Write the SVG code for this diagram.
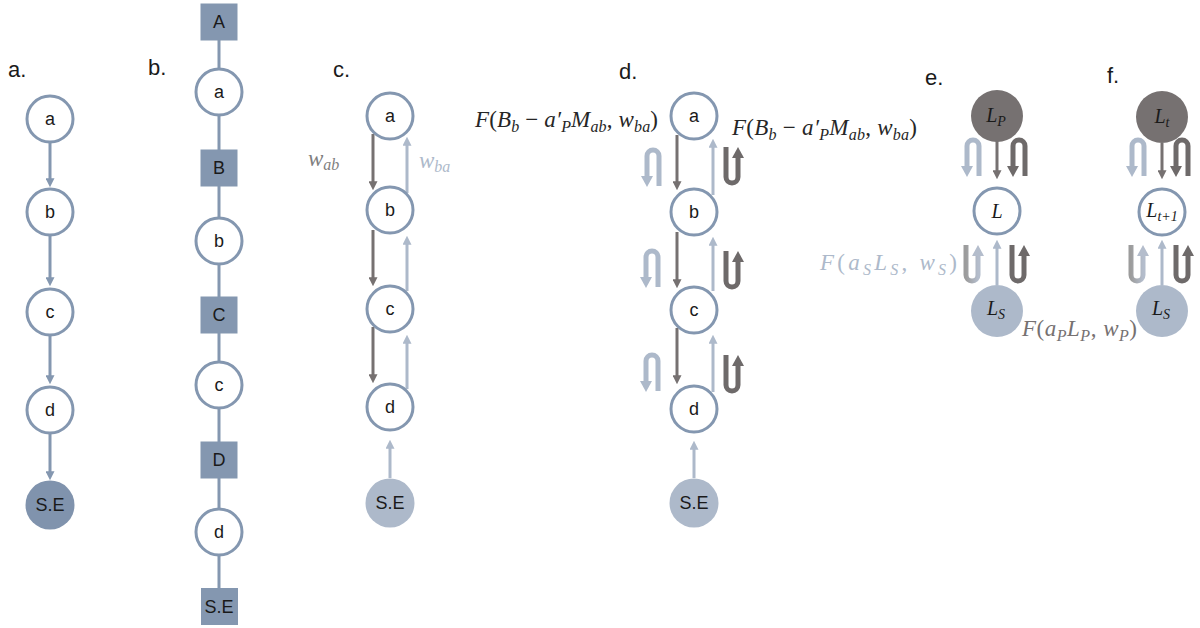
<svg xmlns="http://www.w3.org/2000/svg" xmlns:xlink="http://www.w3.org/1999/xlink" width="1200" height="628" viewBox="0 0 1200 628">
  <style>
    .node { fill: #ffffff; stroke: #8497b0; stroke-width: 3; }
    .sq { fill: #8497b0; }
    .se-dark { fill: #8093ad; }
    .se-light { fill: #adb9ca; }
    .lp { fill: #767171; }
    .t { font-family: "Liberation Sans", Arial, sans-serif; font-size: 18px; fill: #1a1a1a; text-anchor: middle; }
    .p { font-family: "Liberation Sans", Arial, sans-serif; font-size: 22px; fill: #1a1a1a; }
    .m { font-family: "Liberation Serif", "Times New Roman", serif; font-style: italic; font-size: 23px; fill: #262626; }
    .mi { font-family: "Liberation Serif", "Times New Roman", serif; font-style: italic; font-size: 20px; fill: #1a1a1a; text-anchor: middle; }
    .s { font-size: 16px; }
    .mi .s { font-size: 14px; }
    .u { font-style: normal; }
    .c-blue { stroke: #8497b0; stroke-width: 3; fill: none; }
    .c-dark { stroke: #767171; stroke-width: 3; fill: none; }
    .c-light { stroke: #adb9ca; stroke-width: 3; fill: none; }
    .chain { stroke: #8497b0; stroke-width: 3; fill: none; }
  </style>
  <defs>
    <marker id="ah-blue" viewBox="0 0 10 10" markerUnits="userSpaceOnUse" markerWidth="9" markerHeight="9" refX="2" refY="5" orient="auto">
      <path d="M0,0 L10,5 L0,10 z" fill="#8497b0"/>
    </marker>
    <marker id="ah-dark" viewBox="0 0 10 10" markerUnits="userSpaceOnUse" markerWidth="9" markerHeight="9" refX="2" refY="5" orient="auto">
      <path d="M0,0 L10,5 L0,10 z" fill="#767171"/>
    </marker>
    <marker id="ah-light" viewBox="0 0 10 10" markerUnits="userSpaceOnUse" markerWidth="9" markerHeight="9" refX="2" refY="5" orient="auto">
      <path d="M0,0 L10,5 L0,10 z" fill="#adb9ca"/>
    </marker>
    <linearGradient id="grey-blue" x1="0" y1="0" x2="1" y2="0">
      <stop offset="0" stop-color="#9c9c9c"/>
      <stop offset="1" stop-color="#b4bdcc"/>
    </linearGradient>
    <!-- arch turning back down, head on the left leg -->
    <g id="turn-down">
      <path d="M6,30 V10 A6,6 0 0 1 18,10 V40" fill="none" stroke="currentColor" stroke-width="5"/>
      <polygon points="0,30 12,30 6,41" fill="currentColor"/>
    </g>
    <!-- cup turning back up, head on the right leg -->
    <g id="turn-up">
      <path d="M6,0 V30 A6,6 0 0 0 18,30 V11" fill="none" stroke="currentColor" stroke-width="5"/>
      <polygon points="12,11 24,11 18,0" fill="currentColor"/>
    </g>
    <g id="turn-up-grad">
      <path d="M6,0 V30 A6,6 0 0 0 18,30 V11" fill="none" stroke="url(#grey-blue)" stroke-width="5"/>
      <polygon points="12,11 24,11 18,0" fill="#b4bdcc"/>
    </g>
  </defs>

  <!-- panel letters -->
  <g id="panel-labels">
    <text class="p" x="8" y="77">a.</text>
    <text class="p" x="148" y="75">b.</text>
    <text class="p" x="333" y="77">c.</text>
    <text class="p" x="619" y="79">d.</text>
    <text class="p" x="925" y="85">e.</text>
    <text class="p" x="1107" y="83">f.</text>
  </g>

  <!-- connectors -->
  <g id="connectors">
    <!-- a: food chain -->
    <line class="c-blue" x1="50" y1="143" x2="50" y2="180" marker-end="url(#ah-blue)"/>
    <line class="c-blue" x1="50" y1="236" x2="50" y2="279" marker-end="url(#ah-blue)"/>
    <line class="c-blue" x1="50" y1="336" x2="50" y2="377" marker-end="url(#ah-blue)"/>
    <line class="c-blue" x1="50" y1="434" x2="50" y2="473" marker-end="url(#ah-blue)"/>
    <!-- b: bipartite chain -->
    <line class="chain" x1="219" y1="22" x2="219" y2="607"/>
    <!-- c -->
    <line class="c-dark" x1="373" y1="134" x2="373" y2="183" marker-end="url(#ah-dark)"/>
    <line class="c-dark" x1="373" y1="230" x2="373" y2="279" marker-end="url(#ah-dark)"/>
    <line class="c-dark" x1="373" y1="327" x2="373" y2="376" marker-end="url(#ah-dark)"/>
    <line class="c-light" x1="407" y1="193" x2="407" y2="144" marker-end="url(#ah-light)"/>
    <line class="c-light" x1="407" y1="291" x2="407" y2="243" marker-end="url(#ah-light)"/>
    <line class="c-light" x1="407" y1="389" x2="407" y2="342" marker-end="url(#ah-light)"/>
    <line class="c-light" x1="390" y1="478" x2="390" y2="447" marker-end="url(#ah-light)"/>
    <!-- d -->
    <line class="c-dark" x1="677" y1="135" x2="677" y2="183" marker-end="url(#ah-dark)"/>
    <line class="c-dark" x1="677" y1="232" x2="677" y2="281" marker-end="url(#ah-dark)"/>
    <line class="c-dark" x1="677" y1="328" x2="677" y2="377" marker-end="url(#ah-dark)"/>
    <line class="c-light" x1="713" y1="195" x2="713" y2="146" marker-end="url(#ah-light)"/>
    <line class="c-light" x1="713" y1="291" x2="713" y2="244" marker-end="url(#ah-light)"/>
    <line class="c-light" x1="713" y1="392" x2="713" y2="342" marker-end="url(#ah-light)"/>
    <line class="c-light" x1="694" y1="478" x2="694" y2="448" marker-end="url(#ah-light)"/>
    <use xlink:href="#turn-down" href="#turn-down" x="641" y="146" style="color:#adb9ca"/>
    <use xlink:href="#turn-down" href="#turn-down" x="640" y="247" style="color:#adb9ca"/>
    <use xlink:href="#turn-down" href="#turn-down" x="640" y="351" style="color:#adb9ca"/>
    <use xlink:href="#turn-up" href="#turn-up" x="720" y="147" style="color:#6e6a6a"/>
    <use xlink:href="#turn-up" href="#turn-up" x="720" y="251" style="color:#6e6a6a"/>
    <use xlink:href="#turn-up" href="#turn-up" x="720" y="355" style="color:#6e6a6a"/>
    <!-- e -->
    <line class="c-dark" x1="997" y1="141" x2="997" y2="172" marker-end="url(#ah-dark)"/>
    <line class="c-light" x1="997" y1="285" x2="997" y2="247" marker-end="url(#ah-light)"/>
    <use xlink:href="#turn-down" href="#turn-down" x="961" y="136" style="color:#adb9ca"/>
    <use xlink:href="#turn-down" href="#turn-down" x="1007" y="136" style="color:#6e6a6a"/>
    <use xlink:href="#turn-up-grad" href="#turn-up-grad" x="960" y="245"/>
    <use xlink:href="#turn-up" href="#turn-up" x="1006" y="245" style="color:#6e6a6a"/>
    <!-- f -->
    <line class="c-dark" x1="1162" y1="143" x2="1162" y2="172" marker-end="url(#ah-dark)"/>
    <line class="c-light" x1="1162" y1="285" x2="1162" y2="247" marker-end="url(#ah-light)"/>
    <use xlink:href="#turn-down" href="#turn-down" x="1126" y="136" style="color:#adb9ca"/>
    <use xlink:href="#turn-down" href="#turn-down" x="1170" y="136" style="color:#6e6a6a"/>
    <use xlink:href="#turn-up-grad" href="#turn-up-grad" x="1125" y="245"/>
    <use xlink:href="#turn-up" href="#turn-up" x="1170" y="245" style="color:#6e6a6a"/>
  </g>

  <!-- a: nodes -->
  <g id="a-a"><circle class="node" cx="50" cy="119" r="23"/><text class="t" x="50" y="125">a</text></g>
  <g id="a-b"><circle class="node" cx="50" cy="212" r="23"/><text class="t" x="50" y="218">b</text></g>
  <g id="a-c"><circle class="node" cx="50" cy="312" r="23"/><text class="t" x="50" y="318">c</text></g>
  <g id="a-d"><circle class="node" cx="50" cy="410" r="23"/><text class="t" x="50" y="416">d</text></g>
  <g id="a-se"><circle class="se-dark" cx="50" cy="505" r="24.5"/><text class="t" x="50" y="511">S.E</text></g>

  <!-- b: nodes -->
  <g id="b-A"><rect class="sq" x="200.5" y="3.5" width="37" height="37"/><text class="t" x="219" y="28">A</text></g>
  <g id="b-a"><circle class="node" cx="219" cy="92" r="23"/><text class="t" x="219" y="98">a</text></g>
  <g id="b-B"><rect class="sq" x="200.5" y="149.5" width="37" height="37"/><text class="t" x="219" y="174">B</text></g>
  <g id="b-b"><circle class="node" cx="219" cy="241" r="23"/><text class="t" x="219" y="247">b</text></g>
  <g id="b-C"><rect class="sq" x="200.5" y="296.5" width="37" height="37"/><text class="t" x="219" y="321">C</text></g>
  <g id="b-c"><circle class="node" cx="219" cy="385" r="23"/><text class="t" x="219" y="391">c</text></g>
  <g id="b-D"><rect class="sq" x="200.5" y="441.5" width="37" height="37"/><text class="t" x="219" y="466">D</text></g>
  <g id="b-d"><circle class="node" cx="219" cy="532" r="23"/><text class="t" x="219" y="538">d</text></g>
  <g id="b-SE"><rect class="sq" x="201" y="588" width="37" height="37"/><text class="t" x="219" y="613">S.E</text></g>

  <!-- c: nodes -->
  <g id="c-a"><circle class="node" cx="390" cy="116" r="23"/><text class="t" x="390" y="122">a</text></g>
  <g id="c-b"><circle class="node" cx="390" cy="210" r="23"/><text class="t" x="390" y="216">b</text></g>
  <g id="c-c"><circle class="node" cx="390" cy="309" r="23"/><text class="t" x="390" y="315">c</text></g>
  <g id="c-d"><circle class="node" cx="390" cy="407" r="23"/><text class="t" x="390" y="413">d</text></g>
  <g id="c-se"><circle class="se-light" cx="390" cy="503" r="24.5"/><text class="t" x="390" y="509">S.E</text></g>
  <g id="c-weights">
    <text class="m" x="308" y="166" style="fill:#7f7f7f">w<tspan class="s" dy="4">ab</tspan></text>
    <text class="m" x="419" y="168" style="fill:#adb9ca">w<tspan class="s" dy="4">ba</tspan></text>
  </g>

  <!-- d: nodes -->
  <g id="d-a"><circle class="node" cx="694" cy="116" r="23"/><text class="t" x="694" y="122">a</text></g>
  <g id="d-b"><circle class="node" cx="694" cy="212" r="23"/><text class="t" x="694" y="218">b</text></g>
  <g id="d-c"><circle class="node" cx="694" cy="310" r="23"/><text class="t" x="694" y="316">c</text></g>
  <g id="d-d"><circle class="node" cx="694" cy="409" r="23"/><text class="t" x="694" y="415">d</text></g>
  <g id="d-se"><circle class="se-light" cx="694" cy="503" r="24.5"/><text class="t" x="694" y="509">S.E</text></g>
  <g id="d-functions">
    <text class="m" x="475" y="127" textLength="183">F<tspan class="u">(</tspan>B<tspan class="s" dy="5">b</tspan><tspan class="u" dy="-5"> − </tspan>a′<tspan class="s" dy="5">P</tspan><tspan dy="-5">M</tspan><tspan class="s" dy="5">ab</tspan><tspan class="u" dy="-5">, </tspan>w<tspan class="s" dy="5">ba</tspan><tspan class="u" dy="-5">)</tspan></text>
    <text class="m" x="732" y="135" textLength="185">F<tspan class="u">(</tspan>B<tspan class="s" dy="5">b</tspan><tspan class="u" dy="-5"> − </tspan>a′<tspan class="s" dy="5">P</tspan><tspan dy="-5">M</tspan><tspan class="s" dy="5">ab</tspan><tspan class="u" dy="-5">, </tspan>w<tspan class="s" dy="5">ba</tspan><tspan class="u" dy="-5">)</tspan></text>
  </g>

  <!-- e: nodes -->
  <g id="e-LP"><circle class="lp" cx="997" cy="116" r="26"/><text class="mi" x="996" y="122">L<tspan class="s" dy="4">P</tspan></text></g>
  <g id="e-L"><circle class="node" cx="997" cy="211" r="23"/><text class="mi" x="997" y="218">L</text></g>
  <g id="e-LS"><circle class="se-light" cx="997" cy="311" r="26"/><text class="mi" x="996" y="315">L<tspan class="s" dy="4">S</tspan></text></g>
  <g id="e-functions">
    <text class="m" x="820" y="270" textLength="137" style="fill:#adb9ca">F<tspan class="u">(</tspan>a<tspan class="s" dy="5">S</tspan><tspan dy="-5">L</tspan><tspan class="s" dy="5">S</tspan><tspan class="u" dy="-5">, </tspan>w<tspan class="s" dy="5">S</tspan><tspan class="u" dy="-5">)</tspan></text>
    <text class="m" x="1022" y="336" textLength="115" style="fill:#767171">F<tspan class="u">(</tspan>a<tspan class="s" dy="5">P</tspan><tspan dy="-5">L</tspan><tspan class="s" dy="5">P</tspan><tspan class="u" dy="-5">, </tspan>w<tspan class="s" dy="5">P</tspan><tspan class="u" dy="-5">)</tspan></text>
  </g>

  <!-- f: nodes -->
  <g id="f-Lt"><circle class="lp" cx="1162" cy="117" r="26"/><text class="mi" x="1162" y="123">L<tspan class="s" dy="4">t</tspan></text></g>
  <g id="f-Lt1"><circle class="node" cx="1162" cy="212" r="23"/><text class="mi" x="1162" y="217">L<tspan class="s" dy="4">t+1</tspan></text></g>
  <g id="f-LS"><circle class="se-light" cx="1162" cy="311" r="26"/><text class="mi" x="1161" y="315">L<tspan class="s" dy="4">S</tspan></text></g>
</svg>
